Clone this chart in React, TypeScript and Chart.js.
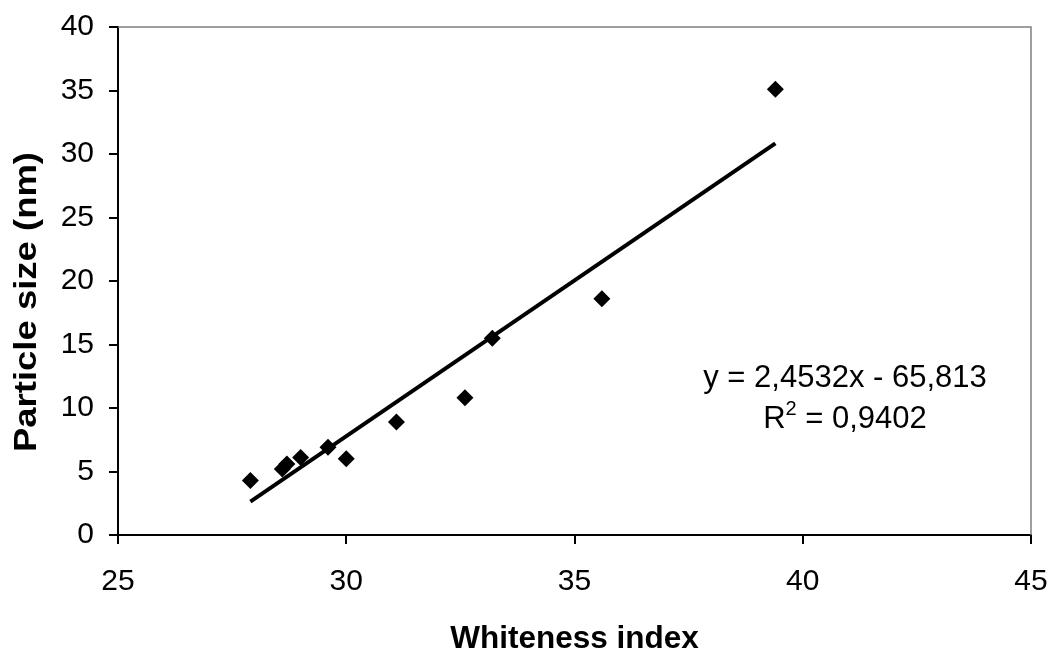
import React, { useEffect, useRef } from "react";
import { Chart, registerables } from "chart.js";

Chart.register(...registerables);

// ---- data ----
const whitenessIndex = [27.9, 28.6, 28.7, 29.0, 29.6, 30.0, 31.1, 32.6, 33.2, 35.6, 39.4];
const particleSize = [4.3, 5.2, 5.6, 6.1, 6.9, 6.0, 8.9, 10.8, 15.5, 18.6, 35.1];
const trendX = [27.9, 39.4];
const trendY = [2.63, 30.84];
const xTickValues = [25, 30, 35, 40, 45];
const yTickValues = [0, 5, 10, 15, 20, 25, 30, 35, 40];
const xTitle = "Whiteness index";
const yTitle = "Particle size (nm)";
const equationText = "y = 2,4532x - 65,813";
const r2Base = "R";
const r2Sup = "2";
const r2Rest = " = 0,9402";

const FONT = '"Liberation Sans", Arial, Helvetica, sans-serif';

const overlayPlugin = {
  id: "overlay",
  afterDraw(chart: any) {
    const { ctx, chartArea } = chart;
    const { left, right, top, bottom } = chartArea;
    ctx.save();
    // grey top/right frame
    ctx.strokeStyle = "#7f7f7f";
    ctx.lineWidth = 1.5;
    ctx.beginPath();
    ctx.moveTo(left, top);
    ctx.lineTo(right, top);
    ctx.lineTo(right, bottom);
    ctx.stroke();

    ctx.fillStyle = "#000";
    // x title
    ctx.font = `bold 31.5px ${FONT}`;
    ctx.textAlign = "center";
    ctx.textBaseline = "alphabetic";
    ctx.fillText(xTitle, (left + right) / 2, 648);

    // y title
    ctx.save();
    ctx.translate(36, 302);
    ctx.rotate(-Math.PI / 2);
    ctx.font = `bold 32px ${FONT}`;
    const w = ctx.measureText(yTitle).width;
    ctx.scale(300 / w, 1);
    ctx.textAlign = "center";
    ctx.fillText(yTitle, 0, 0);
    ctx.restore();

    // equation annotation
    const cx = 845;
    ctx.font = `31px ${FONT}`;
    ctx.textAlign = "center";
    ctx.fillText(equationText, cx, 387);

    ctx.textAlign = "left";
    const bigFont = `31px ${FONT}`;
    const supFont = `20px ${FONT}`;
    ctx.font = bigFont;
    const wR = ctx.measureText(r2Base).width;
    const wRest = ctx.measureText(r2Rest).width;
    ctx.font = supFont;
    const wSup = ctx.measureText(r2Sup).width;
    const total = wR + wSup + wRest;
    let x = cx - total / 2;
    ctx.font = bigFont;
    ctx.fillText(r2Base, x, 428);
    x += wR;
    ctx.font = supFont;
    ctx.fillText(r2Sup, x, 415);
    x += wSup;
    ctx.font = bigFont;
    ctx.fillText(r2Rest, x, 428);
    ctx.restore();
  },
};

export default function App() {
  const canvasRef = useRef<HTMLCanvasElement | null>(null);

  useEffect(() => {
    if (!canvasRef.current) return;
    const chart = new Chart(canvasRef.current, {
      type: "scatter",
      data: {
        datasets: [
          {
            label: "data",
            data: whitenessIndex.map((x, i) => ({ x, y: particleSize[i] })),
            pointStyle: "rectRot",
            pointRadius: 8.5,
            pointHoverRadius: 8.5,
            backgroundColor: "#000",
            borderColor: "#000",
            borderWidth: 0,
            showLine: false,
          },
          {
            label: "trend",
            data: trendX.map((x, i) => ({ x, y: trendY[i] })),
            showLine: true,
            pointRadius: 0,
            borderColor: "#000",
            borderWidth: 4,
            borderCapStyle: "butt",
            fill: false,
          },
        ],
      },
      options: {
        animation: false,
        responsive: true,
        maintainAspectRatio: false,
        events: [],
        layout: { padding: { top: 27, right: 23, left: 0, bottom: 0 } },
        plugins: {
          legend: { display: false },
          tooltip: { enabled: false },
          title: { display: false },
        },
        scales: {
          x: {
            type: "linear",
            min: 25,
            max: 45,
            afterBuildTicks: (s: any) => {
              s.ticks = xTickValues.map((v) => ({ value: v }));
            },
            afterFit: (s: any) => {
              s.height = 115;
              s.paddingLeft = 0;
              s.paddingRight = 0;
            },
            grid: {
              drawOnChartArea: false,
              drawTicks: true,
              tickLength: 9,
              color: "#000",
              lineWidth: 2,
            },
            border: { display: true, color: "#000", width: 2 },
            ticks: {
              color: "#000",
              font: { family: FONT, size: 30 },
              padding: 20,
              maxRotation: 0,
            },
          },
          y: {
            type: "linear",
            min: 0,
            max: 40,
            afterBuildTicks: (s: any) => {
              s.ticks = yTickValues.map((v) => ({ value: v }));
            },
            afterFit: (s: any) => {
              s.width = 118;
              s.paddingTop = 0;
              s.paddingBottom = 0;
            },
            grid: {
              drawOnChartArea: false,
              drawTicks: true,
              tickLength: 9,
              color: "#000",
              lineWidth: 2,
            },
            border: { display: true, color: "#000", width: 2 },
            ticks: {
              color: "#000",
              font: { family: FONT, size: 30 },
              padding: 15,
            },
          },
        },
      },
      plugins: [overlayPlugin],
    } as any);
    return () => chart.destroy();
  }, []);

  return (
    <div
      style={{
        position: "fixed",
        left: 0,
        top: 0,
        width: 1054,
        height: 650,
        background: "#fff",
      }}
    >
      <canvas ref={canvasRef} />
    </div>
  );
}
